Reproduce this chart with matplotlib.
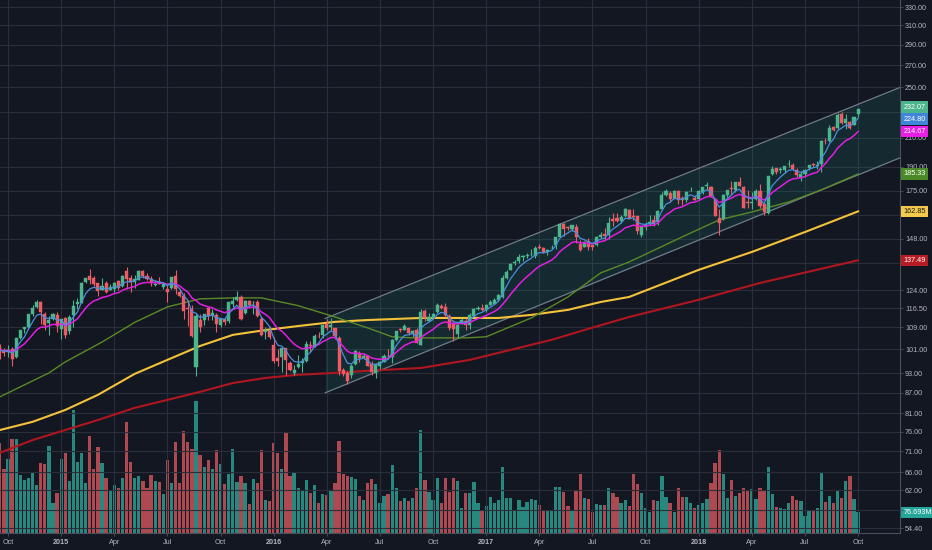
import matplotlib
matplotlib.use("Agg")
import matplotlib.pyplot as plt
import numpy as np
import pandas as pd
from matplotlib.ticker import FixedLocator, FixedFormatter, NullLocator

BG = "#131722"
TEXT = "#b2b5be"
GRID = "#2a2e3a"
AXLINE = "#4a4e5a"
UP = "#4bb58c"
DOWN = "#ec5b66"
VOL_UP = "#27887f"
VOL_DOWN = "#ae4851"

FIRST_WEEK = "2014-09-22"

# weekly candles, Sep 2014 - Oct 2018
opens = [
    101.8, 100.6, 99.95, 101.3, 98.3, 104.9, 108.2, 109.0, 114.3, 116.9,
    118.8, 114.1, 110.7, 112.2, 113.8, 108.3, 112.6, 107.8, 113.7, 118.1,
    118.6, 127.5, 130.0, 129.3, 127.0, 124.0, 127.1, 124.1, 124.5, 128.0,
    125.6, 132.3, 129.5, 127.4, 128.4, 132.6, 130.3, 128.9, 126.1, 127.5,
    125.5, 124.5, 125.0, 130.0, 123.4, 121.5, 116.5, 116.0, 94.9, 112.0,
    111.7, 116.6, 113.7, 113.9, 109.9, 112.1, 111.3, 118.1, 119.9, 120.96,
    114.7, 119.3, 118.8, 118.98, 112.2, 107.3, 107.6, 102.6, 98.0, 98.4,
    101.5, 96.5, 93.1, 95.0, 96.3, 96.9, 102.4, 101.9, 105.9, 106.0,
    110.4, 108.97, 108.9, 105.0, 93.97, 93.0, 92.4, 95.9, 99.6, 97.99,
    98.7, 96.0, 93.0, 95.4, 96.75, 98.7, 98.25, 104.4, 108.2, 108.1,
    108.9, 106.6, 107.9, 102.7, 115.2, 111.6, 112.7, 115.0, 117.3, 117.1,
    113.5, 110.1, 106.6, 110.1, 111.4, 110.0, 113.3, 116.0, 116.5, 115.8,
    117.95, 118.3, 120.0, 121.2, 129.1, 133.1, 136.2, 137.1, 138.95, 139.3,
    140.4, 139.4, 143.7, 143.6, 141.5, 143.5, 145.1, 149.0, 155.9, 154.0,
    153.4, 154.3, 145.7, 143.7, 147.2, 144.9, 144.7, 148.8, 150.6, 149.9,
    158.6, 159.3, 157.5, 160.1, 163.8, 160.5, 160.1, 149.99, 154.3, 155.8,
    157.9, 156.9, 163.9, 172.4, 173.5, 170.3, 175.0, 170.4, 169.1, 174.9,
    170.8, 170.2, 174.4, 177.9, 177.3, 170.2, 159.1, 158.5, 172.1, 176.4,
    175.2, 180.3, 177.3, 168.1, 167.9, 169.9, 175.0, 166.8, 162.1, 185.3,
    189.0, 188.0, 187.6, 191.6, 191.4, 187.9, 183.4, 185.3, 189.5, 191.8,
    190.7, 191.9, 208.0, 207.7, 218.1, 217.2, 228.4, 220.95, 222.15, 219.75, 227.95,
]
highs = [
    102.9, 101.5, 102.4, 101.8, 105.2, 108.0, 109.3, 114.2, 117.6, 119.75,
    119.3, 115.1, 113.2, 114.5, 114.8, 112.2, 112.8, 113.8, 120.0, 120.5,
    127.5, 129.5, 133.6, 130.3, 127.2, 129.2, 128.0, 126.5, 127.5, 128.6,
    130.6, 134.5, 130.6, 130.7, 132.97, 132.9, 131.4, 130.2, 128.3, 129.8,
    126.9, 126.2, 129.6, 132.97, 123.9, 122.6, 119.99, 117.7, 114.4, 114.0,
    114.2, 116.9, 116.0, 114.6, 112.3, 112.8, 119.2, 121.2, 123.8, 121.8,
    119.9, 119.7, 119.4, 119.9, 112.8, 109.0, 109.4, 105.4, 101.2, 101.5,
    101.5, 97.0, 95.7, 98.9, 98.2, 103.8, 103.8, 106.5, 107.3, 110.4,
    112.2, 112.4, 108.9, 105.7, 94.8, 93.8, 95.9, 100.7, 100.4, 99.9,
    99.1, 96.9, 96.5, 96.9, 99.3, 101.0, 104.6, 107.7, 108.9, 110.2,
    109.3, 108.0, 108.8, 116.2, 116.2, 114.6, 114.6, 118.7, 118.2, 118.4,
    114.2, 111.7, 110.4, 112.4, 112.5, 114.7, 116.5, 117.5, 118.0, 118.2,
    120.0, 120.5, 122.4, 130.5, 132.9, 136.3, 137.5, 140.3, 139.98, 141.0,
    142.8, 144.5, 145.46, 143.9, 142.9, 144.9, 148.98, 156.4, 156.6, 154.9,
    155.5, 155.98, 147.5, 147.2, 148.3, 145.0, 149.3, 151.7, 153.99, 159.75,
    161.8, 162.2, 160.6, 164.9, 164.3, 163.96, 160.5, 154.7, 156.7, 160.9,
    160.9, 163.6, 174.3, 176.2, 174.5, 175.5, 175.1, 171.8, 174.5, 177.2,
    171.9, 175.4, 177.4, 180.1, 177.8, 170.2, 163.9, 173.1, 175.6, 180.6,
    180.0, 183.5, 177.5, 175.2, 174.2, 175.8, 179.0, 166.9, 184.2, 190.4,
    189.5, 189.7, 190.3, 194.2, 192.6, 189.0, 187.3, 188.0, 191.4, 192.7,
    194.0, 208.4, 209.8, 219.3, 218.9, 228.9, 229.67, 228.4, 222.95, 226.0, 232.35,
]
lows = [
    97.7, 98.7, 98.3, 95.2, 98.2, 104.7, 107.0, 108.8, 113.3, 116.6,
    110.3, 108.0, 106.3, 111.9, 107.4, 104.6, 105.2, 106.5, 109.0, 116.1,
    118.4, 126.9, 126.6, 125.8, 121.6, 123.9, 122.6, 124.0, 123.4, 124.2,
    125.2, 124.6, 123.4, 124.8, 128.4, 129.1, 128.4, 125.6, 125.7, 126.5,
    124.5, 119.2, 124.3, 122.5, 120.9, 112.1, 109.6, 105.6, 92.0, 107.4,
    109.8, 111.9, 111.7, 107.3, 109.3, 109.8, 110.8, 116.9, 119.6, 111.9,
    114.1, 117.3, 114.2, 112.8, 105.8, 104.8, 104.8, 96.4, 95.4, 93.4,
    92.4, 93.7, 92.4, 94.6, 93.3, 96.6, 100.2, 101.8, 104.9, 104.9,
    108.0, 108.0, 104.8, 92.5, 92.0, 89.5, 91.5, 95.6, 96.6, 97.6,
    95.3, 92.4, 91.5, 94.4, 96.7, 98.3, 96.4, 104.0, 107.3, 108.0,
    106.3, 105.6, 103.1, 102.5, 111.6, 111.5, 112.3, 114.7, 116.2, 112.9,
    108.1, 104.1, 105.1, 110.1, 108.1, 108.3, 113.2, 115.8, 115.4, 114.8,
    117.9, 118.2, 119.5, 120.6, 129.0, 132.8, 135.3, 136.3, 137.05, 138.8,
    139.6, 138.6, 143.0, 141.0, 140.1, 143.2, 143.0, 149.0, 149.7, 152.6,
    152.2, 146.0, 142.2, 143.7, 142.3, 142.4, 144.5, 148.7, 147.3, 148.1,
    154.6, 156.7, 156.6, 159.9, 158.5, 158.1, 150.4, 149.2, 152.5, 155.5,
    155.0, 155.3, 163.7, 171.7, 168.4, 170.1, 167.2, 166.5, 168.4, 174.8,
    169.2, 169.3, 173.0, 175.1, 171.0, 160.1, 150.2, 157.9, 171.4, 172.7,
    174.3, 177.6, 164.9, 164.9, 164.0, 169.2, 165.0, 160.6, 161.6, 184.6,
    185.3, 186.2, 185.8, 189.8, 187.9, 183.5, 180.7, 183.5, 187.6, 189.7,
    188.5, 186.8, 205.6, 206.7, 214.8, 216.3, 220.4, 216.5, 216.3, 219.5, 226.0,
]
closes = [
    100.75, 99.62, 100.73, 97.67, 105.22, 108.00, 109.01, 114.18, 116.47, 118.93,
    115.00, 109.73, 111.78, 113.99, 109.33, 112.01, 105.99, 112.98, 117.16, 118.93,
    127.08, 129.50, 128.46, 126.60, 123.59, 125.90, 123.25, 125.32, 127.10, 124.75,
    130.28, 128.95, 127.62, 128.77, 132.54, 130.28, 128.65, 127.17, 126.60, 126.75,
    126.44, 123.28, 129.62, 124.50, 121.30, 115.52, 115.96, 105.76, 113.29, 109.27,
    114.21, 113.45, 114.71, 110.38, 112.12, 111.04, 119.08, 119.50, 121.06, 112.34,
    119.30, 117.81, 119.03, 113.18, 106.03, 108.03, 105.26, 96.96, 97.13, 101.42,
    97.34, 94.02, 93.99, 96.04, 96.91, 103.01, 102.26, 105.92, 105.67, 109.99,
    108.66, 109.85, 105.68, 93.74, 92.72, 90.52, 95.22, 100.35, 97.92, 98.83,
    95.33, 93.40, 95.89, 96.68, 98.78, 98.66, 104.21, 107.48, 108.18, 109.36,
    106.94, 107.73, 103.13, 114.92, 112.71, 113.05, 114.06, 117.63, 116.60, 113.72,
    108.84, 108.43, 110.06, 111.79, 109.90, 113.95, 115.97, 116.52, 115.82, 117.91,
    119.04, 120.00, 121.95, 129.08, 132.12, 135.72, 136.66, 139.14, 139.34, 139.99,
    140.64, 143.66, 143.34, 141.05, 142.27, 143.65, 148.96, 156.10, 153.06, 153.61,
    155.45, 148.98, 142.27, 146.28, 144.02, 144.18, 149.04, 150.27, 149.50, 156.39,
    157.48, 157.50, 159.86, 164.05, 158.63, 159.88, 151.89, 154.12, 155.30, 156.99,
    156.25, 163.05, 172.50, 174.67, 170.15, 174.97, 169.23, 169.37, 173.97, 175.01,
    169.23, 175.00, 177.09, 178.46, 171.51, 160.50, 156.41, 172.43, 175.50, 176.21,
    179.98, 178.02, 164.94, 167.78, 168.38, 174.73, 165.72, 162.32, 183.83, 188.59,
    186.31, 188.58, 190.24, 191.70, 188.84, 184.92, 185.11, 187.97, 191.33, 191.44,
    190.98, 207.99, 207.53, 217.58, 216.16, 227.63, 221.30, 223.84, 217.66, 225.74, 232.07,
]
# weekly volume, millions
volumes = [
    332, 239, 274, 350, 350, 215, 196, 202, 224, 178,
    258, 254, 322, 113, 147, 276, 298, 192, 455, 264,
    295, 187, 359, 239, 319, 258, 202, 157, 178, 165,
    202, 412, 264, 202, 212, 192, 168, 215, 192, 190,
    145, 270, 184, 338, 186, 377, 338, 313, 488, 289,
    245, 272, 237, 307, 254, 180, 218, 313, 190, 211,
    186, 106, 200, 184, 307, 121, 118, 335, 298, 239,
    372, 212, 223, 165, 155, 195, 150, 178, 113, 143,
    141, 157, 184, 340, 219, 211, 208, 199, 137, 122,
    186, 200, 180, 110, 138, 143, 252, 165, 120, 128,
    118, 128, 165, 381, 196, 153, 122, 202, 113, 205,
    153, 202, 192, 91, 150, 147, 190, 110, 81, 100,
    133, 112, 121, 243, 131, 131, 84, 123, 95, 116,
    126, 122, 104, 85, 85, 85, 170, 170, 153, 100,
    85, 155, 217, 128, 125, 79, 107, 104, 104, 165,
    147, 132, 112, 121, 100, 217, 180, 150, 91, 79,
    121, 118, 211, 133, 112, 78, 165, 134, 132, 113,
    94, 104, 110, 125, 186, 258, 309, 218, 131, 197,
    138, 150, 165, 155, 162, 125, 165, 158, 245, 144,
    95, 91, 89, 112, 137, 121, 118, 64, 81, 85,
    91, 221, 116, 137, 111, 157, 128, 192, 212, 125, 76.693,
]

# slow moving averages (bar index, value)
ma50_idx = [0, 12, 16, 25, 33, 41, 49, 57, 64, 73, 82, 90, 96, 101, 114, 119,
            130, 139, 147, 154, 168, 176, 184, 193, 201, 210]
ma50 = [85.7, 93.1, 96.7, 103.6, 110.9, 117.0, 120.3, 120.7, 120.7, 117.5, 113.0,
        108.8, 105.5, 105.1, 105.1, 105.5, 112.6, 121.1, 131.6, 136.7, 150.1,
        158.1, 162.5, 168.2, 175.4, 185.33]
ma100_idx = [0, 8, 16, 24, 33, 41, 49, 57, 65, 73, 82, 90, 103, 114, 122,
             130, 139, 147, 154, 171, 184, 197, 210]
ma100 = [76.4, 78.6, 81.9, 86.3, 92.8, 97.4, 102.2, 106.2, 108.0, 109.5,
         111.1, 111.8, 112.6, 112.6, 112.6, 113.8, 115.8, 119.0, 121.1, 133.0,
         141.5, 151.6, 162.85]
ma200_idx = [0, 8, 16, 24, 33, 41, 49, 57, 65, 73, 82, 90, 103, 115, 135,
             143, 154, 171, 186, 210]
ma200 = [70.6, 73.8, 76.4, 79.1, 82.5, 84.8, 87.2, 89.9, 91.5, 92.5,
         93.1, 93.8, 94.7, 97.4, 104.4, 108.0, 113.0, 119.9, 127.1, 137.49]

# parallel channel drawing (bar index, price)
channel_idx = [79.6, 220.25]
channel_upper = [112.4, 250.0]
channel_lower = [86.9, 196.0]

price_ticks = [330, 310, 290, 270, 250, 230, 210, 190, 175, 161, 148, 136, 124,
               116.5, 109, 101, 93, 87, 81, 76, 71, 66, 62, 58, 54.4]
# ticks whose labels sit under the value boxes
hidden_ticks = [230, 161, 136, 58]

last_labels = [232.07, 224.80, 214.67, 185.33, 162.85, 137.49]
last_label_colors = [UP, "#3f86d9", "#e91ee6", "#4b8a26", "#f2c94c", "#b71c24"]
last_label_text = ["white", "white", "white", "white", "#1a1a1a", "white"]
last_label_nudge = [1.4, -0.6, 0, 0, 0, 0]

plt.rcParams["font.family"] = ["Liberation Sans", "DejaVu Sans"]

opens = np.array(opens)
highs = np.array(highs)
lows = np.array(lows)
closes = np.array(closes)
volumes = np.array(volumes)
idx = np.arange(len(closes))
dates = pd.date_range(FIRST_WEEK, periods=len(closes), freq="W-MON")

fig = plt.figure(figsize=(9.32, 5.5), dpi=100, facecolor=BG)
ax = fig.add_axes([0, 17 / 550, 900 / 932, 533 / 550])
vax = ax.twinx()
ax.set_zorder(2)
vax.set_zorder(1)
ax.patch.set_visible(False)

# volume
up = closes >= opens
vax.bar(idx, volumes, width=0.8, color=np.where(up, VOL_UP, VOL_DOWN), lw=0)
vax.set_ylim(0, 1975)
vax.yaxis.set_visible(False)
for s in vax.spines.values():
    s.set_visible(False)
vax.annotate("76.693M", xy=(1, volumes[-1]), xycoords=("axes fraction", "data"),
             xytext=(2.6, 0), textcoords="offset points", ha="left", va="center",
             fontsize=5.2, color="white", annotation_clip=False,
             bbox=dict(boxstyle="square,pad=0.3", fc="#26a69a", ec="none"))

# channel
ax.fill_between(channel_idx, channel_lower, channel_upper, color="#26a69a",
                alpha=0.13, lw=0, zorder=1)
ax.plot(channel_idx, channel_upper, color="#6d7c88", lw=0.9, zorder=1.5)
ax.plot(channel_idx, channel_lower, color="#6d7c88", lw=0.9, zorder=1.5)

# moving averages
ax.plot(ma200_idx, ma200, color="#b0161f", lw=1.5, zorder=2)
ax.plot(ma100_idx, ma100, color="#f3c23a", lw=1.5, zorder=2)
ax.plot(ma50_idx, ma50, color="#5a8a27", lw=1.0, zorder=2)

# candles
cols = np.where(up, UP, DOWN)
ax.vlines(idx, lows, highs, colors=cols, lw=0.8, zorder=3)
ax.bar(idx, closes - opens, bottom=opens, width=0.76, color=cols,
       edgecolor=cols, lw=0.3, zorder=4)

close_s = pd.Series(closes)
ax.plot(idx, close_s.ewm(span=13, adjust=False).mean(), color="#e21fe0", lw=1.1, zorder=5)
ax.plot(idx, close_s.ewm(span=5, adjust=False).mean(), color="#4a8fe0", lw=0.9, zorder=5)

ax.set_yscale("log")
ax.set_ylim(53.5, 338.4)
ax.set_xlim(0.04, 220.25)
ax.yaxis.set_major_locator(FixedLocator(price_ticks))
ax.yaxis.set_major_formatter(FixedFormatter(
    ["" if p in hidden_ticks else f"{p:.2f}" for p in price_ticks]))
ax.yaxis.set_minor_locator(NullLocator())
ax.yaxis.tick_right()

tick_idx = [i for i in range(1, len(dates))
            if dates[i].month in (1, 4, 7, 10) and dates[i].month != dates[i - 1].month]
tick_lab = [str(dates[i].year) if dates[i].month == 1 else dates[i].strftime("%b")
            for i in tick_idx]
ax.set_xticks(tick_idx)
ax.set_xticklabels(tick_lab)
for t, lab in zip(ax.get_xticklabels(), tick_lab):
    if lab.isdigit():
        t.set_fontweight("bold")

ax.tick_params(axis="y", which="both", left=False, right=True, length=2, pad=1.6,
               width=0.6, color=AXLINE, labelcolor=TEXT, labelsize=5.2)
ax.tick_params(axis="x", length=2, pad=2, width=0.6, color=AXLINE,
               labelcolor=TEXT, labelsize=5.2)
ax.grid(True, color=GRID, lw=0.8)
ax.set_axisbelow(True)
for name, s in ax.spines.items():
    if name in ("right", "bottom"):
        s.set_color(AXLINE)
        s.set_linewidth(0.8)
    else:
        s.set_visible(False)

for val, fc, tc, dy in zip(last_labels, last_label_colors, last_label_text, last_label_nudge):
    ax.annotate(f"{val:.2f}", xy=(1, val), xycoords=("axes fraction", "data"),
                xytext=(2.6, dy), textcoords="offset points", ha="left", va="center",
                fontsize=5.2, color=tc, annotation_clip=False, zorder=10,
                bbox=dict(boxstyle="square,pad=0.3", fc=fc, ec="none"))

fig.savefig("out.png", dpi=100, facecolor=BG)
